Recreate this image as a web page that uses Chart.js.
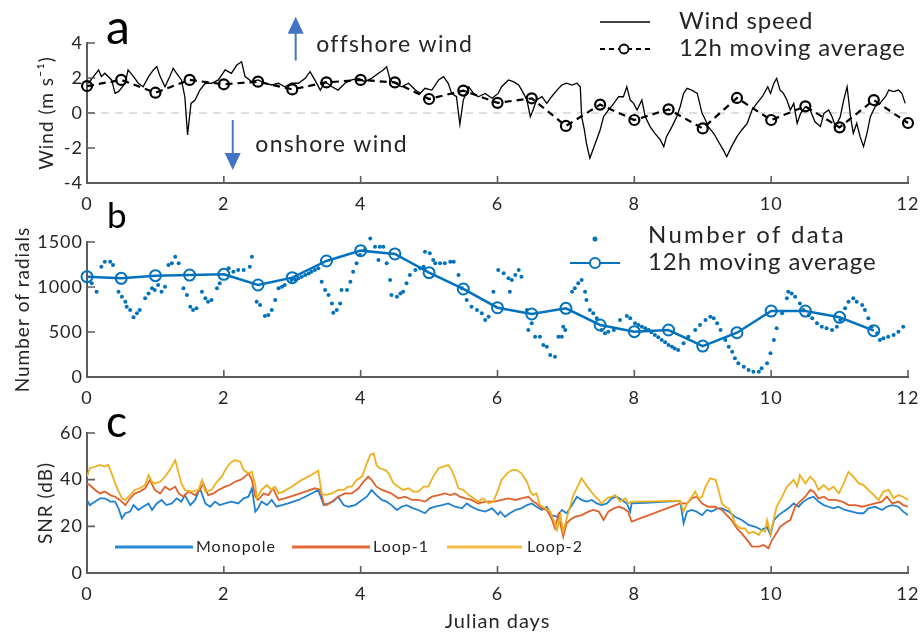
<!DOCTYPE html>
<html>
<head>
<meta charset="utf-8">
<script src="https://cdn.jsdelivr.net/npm/chart.js@4.4.1/dist/chart.umd.min.js"></script>
<style>
  body { margin: 0; background: #fff; width: 920px; height: 635px; position: relative; overflow: hidden; font-family: Lato, "Open Sans", sans-serif; }
  canvas { position: absolute; left: 0; }
  .tag { position: absolute; color: #000; }
</style>
</head>
<body>
<canvas id="windChart" width="920" height="215" style="top:0"></canvas>
<canvas id="countChart" width="920" height="232" style="top:185px"></canvas>
<canvas id="snrChart" width="920" height="235" style="top:400px"></canvas>
<div class="tag" style="left:106px;top:2px;font-size:48px;line-height:48px">a</div>
<div class="tag" style="left:107px;top:197px;font-size:35px;line-height:35px">b</div>
<div class="tag" style="left:106px;top:398px;font-size:44px;line-height:44px">c</div>
<script>
// --- panel a: wind speed (m/s), positive = offshore
const windDays = [0.02,0.17,0.21,0.26,0.36,0.41,0.46,0.56,0.60,0.68,0.75,0.82,0.90,0.97,1.02,1.07,1.14,1.21,1.26,1.31,1.38,1.43,1.47,1.52,1.58,1.65,1.73,1.82,1.92,2.02,2.11,2.19,2.26,2.31,2.41,2.50,2.60,2.70,2.80,2.89,2.99,3.09,3.19,3.26,3.33,3.41,3.48,3.58,3.67,3.77,3.87,3.97,4.06,4.16,4.26,4.33,4.38,4.43,4.50,4.60,4.70,4.80,4.87,4.94,5.04,5.14,5.21,5.28,5.33,5.40,5.45,5.50,5.58,5.65,5.72,5.82,5.92,6.01,
  6.06,6.16,6.23,6.31,6.38,6.43,6.48,6.52,6.57,6.65,6.72,6.79,6.87,6.94,7.01,7.09,7.16,7.21,7.23,7.27,7.30,7.35,7.43,7.50,7.55,7.62,7.70,7.77,7.84,7.89,7.94,7.99,8.04,8.11,8.16,8.23,8.30,8.38,8.43,8.47,8.55,8.62,8.67,8.72,8.77,8.84,8.92,8.99,9.04,9.08,9.16,9.23,9.30,9.35,9.42,9.50,9.57,9.65,9.72,9.79,9.87,9.95,9.99,10.04,10.08,10.13,10.18,10.23,10.28,10.33,10.38,10.43,10.50,10.57,10.64,10.72,10.77,10.84,10.89,10.94,11.01,11.06,11.11,11.16,11.20,11.25,11.30,11.35,11.40,11.45,11.52,11.59,11.67,11.72,11.79,11.86,11.91,11.96];
const windSpeed = [1.70,2.46,2.08,2.27,1.89,1.12,1.22,1.70,2.46,2.08,1.70,1.50,2.08,2.46,2.65,2.08,1.50,2.08,2.55,2.27,1.89,0.93,-1.25,0.55,0.74,1.31,1.70,1.70,1.89,2.46,2.27,2.74,2.93,2.08,1.79,1.89,1.70,1.60,1.70,1.50,1.70,1.70,1.98,2.36,1.89,1.31,1.79,1.50,1.31,1.70,1.89,1.98,1.79,1.98,2.27,2.46,2.65,1.89,1.70,1.50,1.70,1.31,1.12,1.41,1.31,1.89,2.08,1.70,1.12,0.93,-0.65,0.74,1.50,1.12,0.93,1.12,0.84,1.12,
  1.50,1.89,1.79,1.60,1.12,0.74,-0.21,0.17,0.74,0.93,0.55,0.93,1.31,1.60,1.70,1.60,1.70,1.50,-0.21,-0.97,-1.73,-2.59,-1.73,-0.97,-0.21,0.17,0.55,0.93,0.93,1.50,0.74,0.55,0.17,0.74,-0.21,-0.78,-1.16,-1.54,-1.92,-1.35,-0.78,-0.21,0.36,1.12,1.41,1.31,1.12,-0.02,-0.40,-0.78,-1.16,-1.64,-2.11,-2.50,-1.92,-1.35,-0.97,-0.59,0.17,0.55,0.93,1.50,1.12,1.70,1.98,1.31,1.12,0.74,0.17,0.55,-0.59,-0.02,0.36,0.17,-0.50,-0.78,-0.02,0.17,-0.21,-0.78,-0.21,0.74,1.50,-0.21,-1.16,-0.59,-1.35,-1.92,-1.16,-0.21,0.36,0.55,0.93,1.31,1.22,1.31,1.12,0.55];
const windAvgDays = [0,0.5,1,1.5,2,2.5,3,3.5,4,4.5,5,5.5,6,6.5,7,7.5,8,8.5,9,9.5,10,10.5,11,11.5,12];
const windAvg = [1.54,1.89,1.16,1.89,1.64,1.79,1.35,1.75,1.89,1.75,0.80,1.28,0.58,0.84,-0.74,0.48,-0.40,0.21,-0.88,0.86,-0.40,0.38,-0.82,0.74,-0.57];
const zeroLineDays = [0, 12];
const zeroLine = [0, 0];

// --- panel b: number of radials
const countDays = [0.07,0.14,0.21,0.26,0.34,0.38,0.46,0.51,0.56,0.58,0.63,0.68,0.73,0.77,0.85,0.90,0.95,0.99,1.04,1.09,1.14,1.19,1.24,1.29,1.34,1.41,1.46,1.51,1.55,1.60,1.68,1.73,1.77,1.82,1.90,1.94,2.07,2.14,2.21,2.29,2.38,2.41,2.48,2.53,2.60,2.65,2.70,2.75,2.80,2.85,2.89,2.99,3.09,3.19,3.28,3.38,3.43,3.48,3.53,3.58,3.60,3.65,3.70,3.72,3.80,3.85,3.89,3.94,3.99,4.06,4.14,4.21,4.28,4.33,4.26,4.38,4.43,4.45,4.53,4.58,4.62,4.67,4.72,4.80,4.87,4.92,4.94,5.01,5.06,5.09,5.16,5.23,5.31,5.36,5.43,5.48,5.55,5.62,5.70,5.77,5.82,5.87,5.94,3.04,3.14,3.24,3.33,
  6.01,6.09,6.16,6.21,6.26,6.31,6.35,6.18,6.43,6.45,6.50,6.55,6.62,6.67,6.72,6.77,6.84,6.89,6.96,6.99,6.94,7.09,7.13,7.18,7.23,7.28,7.30,7.35,7.40,7.45,7.52,7.57,7.62,7.70,7.79,7.89,7.94,8.01,8.06,8.11,8.16,8.21,8.25,8.30,8.35,8.40,8.45,8.50,8.55,8.59,8.64,8.72,8.79,8.89,8.96,9.04,9.11,9.16,9.21,9.26,9.33,9.38,9.43,9.47,9.52,9.60,9.67,9.74,9.82,9.86,9.94,9.99,10.04,10.08,10.16,10.23,10.25,10.30,10.35,10.42,10.47,10.55,10.60,10.67,10.74,10.81,10.89,10.96,11.01,11.08,11.13,11.20,11.25,11.33,11.37,11.42,11.47,11.55,11.59,11.64,11.71,11.79,11.86,11.93];
const countValues = [1041,948,1226,1281,1281,1244,948,892,837,781,744,663,707,744,874,929,985,966,1022,948,1003,1244,1263,1337,1263,985,911,781,744,763,948,874,837,855,985,1041,1207,1170,1189,1189,1226,1337,837,800,678,689,744,855,985,1003,1022,1078,1096,1133,1170,1207,1059,966,911,818,715,744,818,966,966,1059,1170,1263,1355,1411,1540,1448,1448,1448,1300,1263,1078,911,892,929,948,1041,1133,1189,1207,1226,1392,1374,1300,1263,1263,1263,1281,1281,1133,985,855,781,744,707,633,670,948,1087,1115,1150,1190,
  1189,1152,1096,1078,1133,1189,1115,948,744,522,596,448,448,355,337,244,226,448,559,522,448,948,985,1041,1078,948,855,744,707,652,522,485,504,522,633,678,652,596,578,559,541,522,496,467,441,411,385,355,337,318,300,374,448,522,578,633,670,652,596,522,411,337,281,207,152,115,78,59,59,96,152,263,411,541,707,874,948,929,892,818,744,689,652,596,559,541,522,559,633,763,837,874,837,800,744,652,559,485,411,430,448,467,504,559];
const countAvgDays = [0,0.5,1,1.5,2,2.5,3,3.5,4,4.5,5,5.5,6,6.5,7,7.5,8,8.5,9,9.5,10,10.5,11,11.5];
const countAvg = [1115,1096,1126,1133,1141,1022,1104,1289,1404,1367,1159,978,770,700,763,578,504,522,344,492,733,733,663,515];

// --- panel c: SNR per antenna (dB)
const monoDays = [0.00,0.04,0.12,0.19,0.26,0.34,0.41,0.46,0.51,0.56,0.63,0.68,0.75,0.82,0.90,0.95,1.02,1.09,1.16,1.24,1.31,1.38,1.43,1.51,1.58,1.65,1.73,1.80,1.87,1.94,2.02,2.11,2.21,2.29,2.36,2.41,2.46,2.50,2.55,2.63,2.70,2.77,2.85,2.94,3.09,3.24,3.38,3.46,3.53,3.60,3.67,3.75,3.82,3.92,3.99,4.09,4.16,4.23,4.31,4.38,4.45,4.53,4.60,4.67,4.77,4.84,4.94,5.01,5.09,5.19,5.28,5.38,5.48,5.55,5.62,5.72,5.82,5.92,6.01,
  6.04,6.11,6.18,6.26,6.35,6.43,6.50,6.57,6.65,6.72,6.79,6.87,6.94,7.01,7.09,7.16,7.23,7.30,7.38,7.45,7.52,7.60,7.67,7.74,7.82,7.89,7.94,7.96,8.16,8.67,8.72,8.77,8.84,8.91,8.99,9.06,9.13,9.21,9.28,9.38,9.47,9.57,9.67,9.77,9.86,9.94,9.99,10.04,10.11,10.18,10.25,10.33,10.40,10.47,10.55,10.62,10.69,10.77,10.84,10.91,10.98,11.08,11.18,11.28,11.35,11.42,11.52,11.62,11.69,11.77,11.86,11.93,12.00];
const monoSnr = [31.3,29.1,30.6,32.0,32.0,30.6,30.6,27.7,23.4,25.6,26.3,29.1,27.0,28.4,29.8,27.0,29.8,31.3,29.1,29.8,32.0,30.6,33.4,29.1,31.3,36.3,29.8,28.4,30.6,29.1,29.8,30.6,29.8,32.0,32.7,36.3,26.3,27.7,30.6,29.1,31.3,28.4,29.1,29.8,31.3,33.4,35.6,29.1,29.8,30.6,32.7,29.1,28.4,29.1,30.6,32.7,35.6,33.4,31.3,30.6,29.1,27.0,28.4,29.1,27.7,27.0,25.6,27.7,28.4,29.1,29.8,28.4,27.7,29.8,28.4,27.0,26.3,27.7,25.0,
  26.3,24.1,25.6,27.0,27.7,29.1,29.8,28.4,27.0,28.4,24.8,24.1,27.0,25.6,29.1,32.7,31.3,30.6,31.3,29.8,29.1,29.8,32.0,32.7,31.3,29.8,26.3,29.8,30.1,30.9,21.3,26.3,27.0,26.3,24.8,27.0,26.3,27.7,27.7,26.3,24.1,22.7,20.6,19.8,18.4,19.8,16.3,22.7,24.8,26.3,27.7,29.8,28.4,30.6,32.0,32.7,30.6,29.1,28.4,27.7,28.4,27.0,26.3,25.6,25.6,27.7,28.4,27.0,28.4,29.1,28.4,26.3,24.8];
const loop1Days = [0.00,0.04,0.12,0.19,0.26,0.34,0.41,0.48,0.56,0.63,0.70,0.77,0.85,0.92,0.99,1.07,1.14,1.21,1.29,1.34,1.41,1.48,1.58,1.65,1.70,1.77,1.85,1.92,2.02,2.09,2.16,2.24,2.31,2.36,2.41,2.46,2.50,2.58,2.65,2.72,2.80,2.89,3.04,3.19,3.33,3.41,3.46,3.50,3.58,3.67,3.77,3.87,3.97,4.04,4.11,4.16,4.23,4.31,4.38,4.45,4.55,4.65,4.75,4.84,4.94,5.04,5.14,5.23,5.31,5.38,5.45,5.53,5.62,5.72,5.82,5.92,
  5.96,6.06,6.16,6.26,6.35,6.45,6.52,6.57,6.65,6.72,6.79,6.84,6.89,6.96,7.01,7.06,7.13,7.23,7.33,7.40,7.48,7.55,7.62,7.70,7.77,7.84,7.91,7.96,8.65,8.70,8.77,8.84,8.91,8.99,9.08,9.18,9.28,9.35,9.42,9.50,9.57,9.65,9.72,9.82,9.89,9.96,10.01,10.06,10.13,10.20,10.28,10.35,10.42,10.50,10.57,10.62,10.69,10.77,10.84,10.94,11.04,11.13,11.23,11.33,11.42,11.52,11.62,11.69,11.77,11.86,11.93,12.00];
const loop1Snr = [38.4,37.7,35.6,34.1,34.9,33.4,32.7,31.3,29.1,32.0,34.1,34.9,36.3,39.9,35.6,34.1,37.0,35.6,37.0,34.1,32.7,34.9,33.4,35.6,38.4,33.4,34.1,35.6,37.0,37.7,39.1,39.9,41.3,42.7,39.9,32.7,31.3,34.1,33.4,36.3,31.3,32.0,33.4,34.9,36.3,35.6,29.8,29.1,30.6,32.7,34.1,34.1,36.3,39.1,41.3,39.9,37.0,35.6,34.9,34.1,32.0,32.7,31.3,31.3,30.6,32.7,33.4,34.1,33.4,34.1,32.7,32.0,31.3,29.8,30.6,30.6,
  30.6,31.3,32.0,31.3,32.0,32.7,30.6,29.8,27.7,27.0,23.4,19.1,24.8,15.6,21.3,22.7,24.1,24.8,26.3,27.0,26.3,22.7,26.3,27.7,28.4,27.7,26.3,22.0,29.6,29.8,29.8,32.0,32.7,29.8,28.4,28.4,27.0,24.8,22.7,19.1,17.0,14.1,11.3,11.3,12.0,10.6,14.1,16.3,19.8,21.3,22.7,28.4,30.6,32.7,35.6,34.9,32.0,32.7,31.3,31.3,30.6,29.1,29.1,28.4,29.1,29.8,30.6,32.7,29.8,30.6,29.1,28.4];
const loop2Days = [0.00,0.04,0.12,0.19,0.26,0.31,0.36,0.43,0.51,0.56,0.63,0.70,0.77,0.85,0.90,0.95,0.99,1.07,1.14,1.21,1.29,1.34,1.38,1.43,1.53,1.63,1.68,1.73,1.82,1.90,1.97,2.02,2.09,2.16,2.24,2.29,2.36,2.41,2.46,2.48,2.55,2.63,2.70,2.75,2.80,2.87,2.99,3.14,3.28,3.38,3.43,3.48,3.58,3.67,3.75,3.82,3.87,3.94,4.02,4.09,4.14,4.19,4.23,4.28,4.36,4.41,4.48,4.55,4.62,4.70,4.77,4.84,4.92,4.99,5.06,5.14,5.21,5.28,5.33,5.38,5.43,5.50,5.58,5.65,5.72,5.79,5.87,5.94,
  6.01,6.06,6.14,6.21,6.28,6.35,6.43,6.48,6.52,6.57,6.62,6.70,6.77,6.82,6.87,6.92,6.96,7.01,7.06,7.11,7.18,7.23,7.28,7.35,7.43,7.48,7.52,7.60,7.67,7.72,7.79,7.87,7.91,7.96,8.11,8.67,8.72,8.77,8.84,8.89,8.94,8.99,9.04,9.11,9.19,9.23,9.28,9.33,9.38,9.42,9.47,9.55,9.62,9.67,9.74,9.82,9.86,9.91,9.94,9.99,10.03,10.08,10.16,10.23,10.28,10.33,10.38,10.42,10.50,10.57,10.64,10.69,10.77,10.84,10.91,10.99,11.06,11.13,11.20,11.28,11.35,11.42,11.50,11.57,11.64,11.72,11.79,11.86,11.93,12.00];
const loop2Snr = [41.3,44.9,45.6,46.3,45.6,46.3,42.7,37.0,32.0,31.3,33.4,35.6,36.3,37.7,42.0,39.1,38.4,39.1,41.3,44.1,48.4,42.7,38.4,35.6,34.9,35.6,39.9,34.9,35.6,39.1,41.3,44.1,47.0,48.4,47.7,44.1,42.7,43.4,37.7,32.0,35.6,37.7,35.6,37.0,34.1,34.9,37.0,39.9,42.0,43.9,34.1,33.4,34.1,35.6,35.6,37.0,37.0,39.9,41.3,47.0,50.6,51.3,46.3,44.9,44.1,42.7,38.4,37.0,35.6,36.3,34.9,34.9,37.0,37.0,41.3,44.9,45.6,46.3,44.1,40.6,36.3,35.6,33.4,32.0,30.6,32.0,29.8,30.6,
  35.6,39.9,42.7,44.1,44.1,42.7,39.1,34.9,33.4,34.1,29.1,27.7,26.3,22.7,18.4,24.8,17.7,23.4,28.4,33.4,37.7,40.6,38.4,35.6,32.7,31.3,29.8,32.0,32.7,33.4,30.6,32.0,29.8,30.6,30.6,31.0,26.3,29.8,32.7,34.9,32.0,32.7,37.0,40.6,39.9,35.6,29.8,28.4,27.7,25.6,21.3,19.1,19.1,17.0,17.7,16.3,18.4,17.7,22.7,17.0,22.0,28.4,32.7,37.0,38.4,39.9,37.0,42.0,38.4,41.3,39.1,35.6,37.7,35.6,37.0,34.1,38.4,43.4,41.3,38.4,37.7,35.6,33.4,31.3,34.9,35.6,32.0,33.4,32.7,31.3];

const FONT = 'Lato, "Open Sans", sans-serif';
const INK = '#262626';
const AXIS = '#5c5c5c';
const BLUE = '#0072BD';
const ARROW = '#4472C4';

const pts = (xs, ys) => xs.map((x, i) => ({ x, y: ys[i] }));

// slightly looser text, applied to everything the chart draws
const looseText = {
  id: 'looseText',
  beforeDraw(chart) { chart.ctx.letterSpacing = '1px'; }
};

// MATLAB-style tick marks pointing into the plot
const inwardTicks = {
  id: 'inwardTicks',
  afterDatasetsDraw(chart) {
    const { ctx, chartArea: a, scales: { x, y } } = chart;
    ctx.save();
    ctx.strokeStyle = AXIS;
    ctx.lineWidth = 1.6;
    ctx.beginPath();
    x.ticks.forEach(t => {
      const px = x.getPixelForValue(t.value);
      ctx.moveTo(px, a.bottom); ctx.lineTo(px, a.bottom - 7);
    });
    y.ticks.forEach(t => {
      const py = y.getPixelForValue(t.value);
      ctx.moveTo(a.left, py); ctx.lineTo(a.left + 8, py);
    });
    ctx.stroke();
    ctx.restore();
  }
};

function drawArrow(ctx, x, y0, y1) {
  const dir = Math.sign(y1 - y0);
  ctx.beginPath();
  ctx.moveTo(x, y0); ctx.lineTo(x, y1 - dir * 14);
  ctx.stroke();
  ctx.beginPath();
  ctx.moveTo(x, y1); ctx.lineTo(x - 8, y1 - dir * 17); ctx.lineTo(x + 8, y1 - dir * 17);
  ctx.closePath();
  ctx.fill();
}

function circle(ctx, x, y, r) {
  ctx.beginPath(); ctx.arc(x, y, r, 0, Math.PI * 2); ctx.stroke();
}

function label(ctx, text, x, y, size, spacing) {
  ctx.fillStyle = INK;
  ctx.font = `${size}px ${FONT}`;
  ctx.letterSpacing = `${spacing}px`;
  ctx.textBaseline = 'middle';
  ctx.textAlign = 'left';
  ctx.fillText(text, x, y);
}

const windNotes = {
  id: 'windNotes',
  afterDraw(chart) {
    const { ctx, scales: { x, y } } = chart;
    ctx.save();
    ctx.strokeStyle = ARROW; ctx.fillStyle = ARROW; ctx.lineWidth = 2;
    drawArrow(ctx, x.getPixelForValue(3.05), y.getPixelForValue(3.0), y.getPixelForValue(5.5));
    drawArrow(ctx, x.getPixelForValue(2.13), y.getPixelForValue(-0.4), y.getPixelForValue(-3.25));
    label(ctx, 'offshore wind', x.getPixelForValue(3.35), y.getPixelForValue(3.93), 23, 1.3);
    label(ctx, 'onshore wind', x.getPixelForValue(2.46), y.getPixelForValue(-1.83), 23, 1.3);

    // legend
    ctx.strokeStyle = '#000'; ctx.lineWidth = 1.5;
    ctx.beginPath(); ctx.moveTo(600, 22); ctx.lineTo(650, 22); ctx.stroke();
    ctx.lineWidth = 1.8;
    ctx.setLineDash([5, 4]);
    ctx.beginPath(); ctx.moveTo(600, 49); ctx.lineTo(650, 49); ctx.stroke();
    ctx.setLineDash([]);
    ctx.fillStyle = '#fff';
    ctx.beginPath(); ctx.arc(624, 49, 4.5, 0, Math.PI * 2); ctx.fill();
    circle(ctx, 624, 49, 4.5);
    label(ctx, 'Wind speed', 679, 21, 24, 0.8);
    label(ctx, '12h moving average', 679, 48, 24, 0.8);
    ctx.restore();
  }
};

const countLegend = {
  id: 'countLegend',
  afterDraw(chart) {
    const ctx = chart.ctx;
    ctx.save();
    ctx.fillStyle = BLUE;
    ctx.beginPath(); ctx.arc(595, 54, 2.5, 0, Math.PI * 2); ctx.fill();
    ctx.strokeStyle = BLUE; ctx.lineWidth = 2;
    ctx.beginPath(); ctx.moveTo(570, 78); ctx.lineTo(620, 78); ctx.stroke();
    ctx.fillStyle = '#fff';
    ctx.beginPath(); ctx.arc(595, 78, 5, 0, Math.PI * 2); ctx.fill();
    circle(ctx, 595, 78, 5);
    label(ctx, 'Number of data', 648, 50, 24, 2.3);
    label(ctx, '12h moving average', 648, 77, 24, 0.9);
    ctx.restore();
  }
};

const snrLegend = {
  id: 'snrLegend',
  afterDraw(chart) {
    const ctx = chart.ctx;
    const items = [['Monopole', '#2D8BD6', 115, 193, 196], ['Loop-1', '#E8693A', 292, 370, 373], ['Loop-2', '#F2BE45', 447, 522, 527]];
    ctx.save();
    ctx.lineWidth = 3;
    items.forEach(([name, color, x0, x1, tx]) => {
      ctx.strokeStyle = color;
      ctx.beginPath(); ctx.moveTo(x0, 147); ctx.lineTo(x1, 147); ctx.stroke();
      label(ctx, name, tx, 147, 16, 1);
    });
    ctx.restore();
  }
};

function scales(height, areaBottom, y, xTitle) {
  const tickFont = { family: FONT, size: 18 };
  return {
    x: {
      type: 'linear', min: 0, max: 12,
      ticks: { stepSize: 2, color: INK, font: tickFont, padding: 10, callback: v => String(v) },
      grid: { display: false, drawTicks: false },
      border: { color: AXIS, width: 2 },
      title: xTitle
        ? { display: true, text: xTitle, color: INK, font: { family: FONT, size: 20 }, padding: { top: 0, bottom: 1 } }
        : { display: false },
      afterFit: s => { s.height = height - areaBottom; s.paddingLeft = 0; s.paddingRight = 0; }
    },
    y: {
      min: y.min, max: y.max,
      ticks: { stepSize: y.step, color: INK, font: tickFont, padding: 4, callback: v => String(v) },
      grid: { display: false, drawTicks: false },
      border: { color: AXIS, width: 2 },
      title: { display: true, text: y.title, color: INK, font: { family: FONT, size: 19 }, padding: { top: y.titlePad, bottom: 0 } },
      afterFit: s => { s.width = 87; }
    }
  };
}

function baseOptions(height, areaTop, areaBottom, y, xTitle) {
  return {
    animation: false,
    responsive: false,
    devicePixelRatio: 1,
    events: [],
    layout: { padding: { top: areaTop, right: 12, left: 0, bottom: 0 } },
    plugins: { legend: { display: false }, tooltip: { enabled: false } },
    scales: scales(height, areaBottom, y, xTitle)
  };
}

new Chart(document.getElementById('windChart'), {
  type: 'scatter',
  data: {
    datasets: [
      {
        data: pts(windAvgDays, windAvg), showLine: true, borderColor: '#000', borderWidth: 2.2,
        borderDash: [7, 5], pointRadius: 5, pointBorderWidth: 2.2, pointBorderColor: '#000',
        pointBackgroundColor: 'rgba(0,0,0,0)', clip: false
      },
      { data: pts(windDays, windSpeed), showLine: true, borderColor: '#000', borderWidth: 1.3, pointRadius: 0 },
      { data: pts(zeroLineDays, zeroLine), showLine: true, borderColor: '#bdbdbd', borderWidth: 1.2, borderDash: [8, 6], pointRadius: 0 }
    ]
  },
  options: baseOptions(215, 43, 183, { min: -4, max: 4, step: 2, title: 'Wind (m s\u207B\u00B9)', titlePad: 35 }),
  plugins: [looseText, inwardTicks, windNotes]
});

new Chart(document.getElementById('countChart'), {
  type: 'scatter',
  data: {
    datasets: [
      {
        data: pts(countAvgDays, countAvg), showLine: true, borderColor: BLUE, borderWidth: 2.5,
        pointRadius: 5.5, pointBorderWidth: 2, pointBorderColor: BLUE, pointBackgroundColor: 'rgba(0,0,0,0)', clip: false
      },
      { data: pts(countDays, countValues), pointRadius: 2, pointBorderWidth: 0, pointBackgroundColor: BLUE, clip: 6 }
    ]
  },
  options: baseOptions(232, 57, 192, { min: 0, max: 1500, step: 500, title: 'Number of radials', titlePad: 11 }),
  plugins: [looseText, inwardTicks, countLegend]
});

new Chart(document.getElementById('snrChart'), {
  type: 'scatter',
  data: {
    datasets: [
      { data: pts(loop2Days, loop2Snr), showLine: true, borderColor: '#EDB120', borderWidth: 1.8, pointRadius: 0 },
      { data: pts(loop1Days, loop1Snr), showLine: true, borderColor: '#E0612C', borderWidth: 1.8, pointRadius: 0 },
      { data: pts(monoDays, monoSnr), showLine: true, borderColor: '#1F80CF', borderWidth: 1.8, pointRadius: 0 }
    ]
  },
  options: baseOptions(235, 33, 173, { min: 0, max: 60, step: 20, title: 'SNR (dB)', titlePad: 34 }, 'Julian days'),
  plugins: [looseText, inwardTicks, snrLegend]
});
</script>
</body>
</html>
